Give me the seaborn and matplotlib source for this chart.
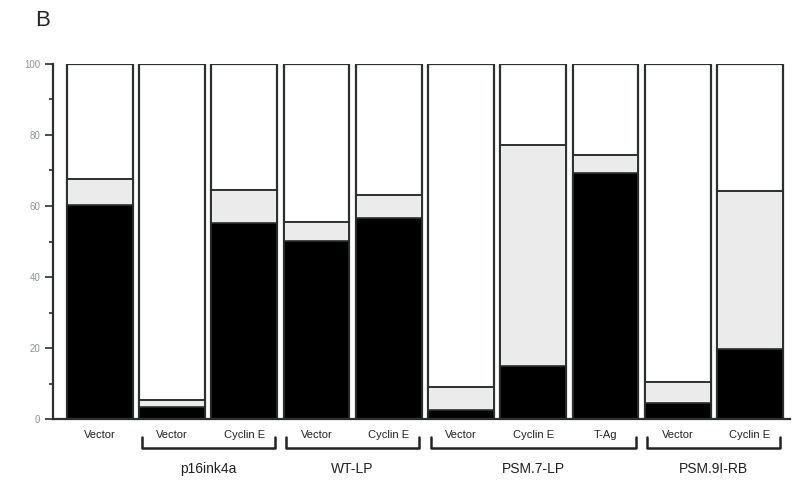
import numpy as np
import pandas as pd
import matplotlib
matplotlib.use("Agg")
import matplotlib.pyplot as plt
import seaborn as sns

# Data (percent of cells)
bar_labels = ["Vector", "Vector", "Cyclin E", "Vector", "Cyclin E",
              "Vector", "Cyclin E", "T-Ag", "Vector", "Cyclin E"]
black_vals = [60.3, 3.5, 55.2, 50.1, 56.6, 2.5, 15.0, 69.3, 4.5, 19.7]
gray_top = [67.6, 5.5, 64.5, 55.5, 63.0, 9.0, 77.2, 74.4, 10.4, 64.2]
total_vals = [100, 100, 100, 100, 100, 100, 100, 100, 100, 100]
groups = ["p16ink4a", "WT-LP", "PSM.7-LP", "PSM.9I-RB"]
group_spans = [(1, 2), (3, 4), (5, 7), (8, 9)]

df = pd.DataFrame({
    "pos": [str(i) for i in range(len(bar_labels))],
    "black": black_vals,
    "gray": gray_top,
    "total": total_vals,
})

sns.set_style("white")
plt.rcParams["font.family"] = ["Liberation Sans", "DejaVu Sans"]

fig = plt.figure(figsize=(8, 4.84), dpi=100)
ax = fig.add_axes([0.066, 0.134, 0.921, 0.734])

edge = "#2b2f30"
w = 0.91
sns.barplot(data=df, x="pos", y="total", color="white", edgecolor=edge,
            linewidth=1.6, width=w, ax=ax, saturation=1)
sns.barplot(data=df, x="pos", y="gray", color="#ebebeb", edgecolor=edge,
            linewidth=1.4, width=w, ax=ax, saturation=1)
sns.barplot(data=df, x="pos", y="black", color="black", edgecolor=edge,
            linewidth=1.2, width=w, ax=ax, saturation=1)

ax.set_xlim(-0.65, len(bar_labels) - 0.45)
ax.set_ylim(0, 100)
ax.set_yticks(np.arange(0, 101, 20))
ax.set_yticks(np.arange(10, 100, 20), minor=True)
ax.set_yticklabels([str(v) for v in range(0, 101, 20)], color="#8a9499",
                   fontsize=7)
ax.tick_params(axis="y", which="major", length=6, width=1.2, color=edge,
               left=True, pad=3)
ax.tick_params(axis="y", which="minor", length=3, width=1.2, color=edge,
               left=True)
ax.set_xticks(range(len(bar_labels)))
ax.set_xticklabels(bar_labels, fontsize=8, color="#222222")
ax.tick_params(axis="x", length=0, pad=8)
ax.set_xlabel("")
ax.set_ylabel("")

for s in ["top", "right"]:
    ax.spines[s].set_visible(False)
for s in ["left", "bottom"]:
    ax.spines[s].set_color(edge)
    ax.spines[s].set_linewidth(1.6)

# group brackets below the axis
trans = ax.get_xaxis_transform()
for name, (a, b) in zip(groups, group_spans):
    x0, x1 = a - 0.42, b + 0.42
    yb, yt = -0.08, -0.05
    ax.plot([x0, x0, x1, x1], [yt, yb, yb, yt], color="#222222", lw=1.8,
            transform=trans, clip_on=False)
    ax.text((a + b) / 2, -0.14, name, transform=trans, ha="center",
            va="center", fontsize=10, color="#222222")

fig.text(0.044, 0.958, "B", fontsize=16, ha="left", va="center")

fig.savefig("out.png", dpi=100, facecolor="white")
